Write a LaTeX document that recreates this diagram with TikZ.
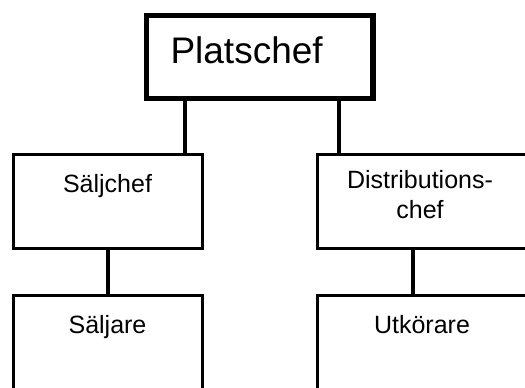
\documentclass[tikz,border=0pt]{standalone}
\usepackage{fontspec}
\setmainfont{Liberation Sans}
\begin{document}
\begin{tikzpicture}[x=1pt,y=-1pt,
  orgbox/.style={draw=black, line width=3.3pt, fill=white, rectangle, inner sep=0pt, outer sep=0pt},
  headbox/.style={orgbox, line width=5.5pt},
  link/.style={draw=black, line width=4pt},
  lbl/.style={inner sep=0pt, outer sep=0pt, font=\fontsize{25}{30}\selectfont, align=center}]
  \useasboundingbox (0,0) rectangle (525,388);
  \clip (0,0) rectangle (525,388);

  % boxes
  \node[headbox, minimum width=226.5pt, minimum height=83pt] (plats) at (259.75,57) {};
  \node[orgbox, minimum width=189.4pt, minimum height=93.8pt] (salj) at (108,201.4) {};
  \node[orgbox, minimum width=222.7pt, minimum height=93.8pt] (dist) at (428.6,201.4) {};
  \node[orgbox, minimum width=189.4pt, minimum height=120pt] (saljare) at (108,355.5) {};
  \node[orgbox, minimum width=222.7pt, minimum height=120pt] (utk) at (428.6,355.5) {};

  % texts
  \node[lbl, anchor=base west, font=\fontsize{37}{44}\selectfont] (platsT) at (170.5,63) {Platschef};
  \node[lbl, anchor=base] (saljT) at (107.5,192) {Säljchef};
  \node[lbl, anchor=north] (distT) at (420,170) {Distributions-\\chef};
  \node[lbl, anchor=base] (saljareT) at (107.5,333) {Säljare};
  \node[lbl, anchor=base] (utkT) at (422,333) {Utkörare};

  % connectors
  \coordinate (pl) at ([xshift=38.5pt]plats.south west);
  \coordinate (pr) at ([xshift=-34pt]plats.south east);
  \draw[link] (pl) -- (pl |- salj.north);
  \draw[link] (pr) -- (pr |- dist.north);
  \coordinate (sl) at ([xshift=94.5pt]salj.south west);
  \coordinate (dl) at ([xshift=95.7pt]dist.south west);
  \draw[link] (sl) -- (sl |- saljare.north);
  \draw[link] (dl) -- (dl |- utk.north);
\end{tikzpicture}
\end{document}
